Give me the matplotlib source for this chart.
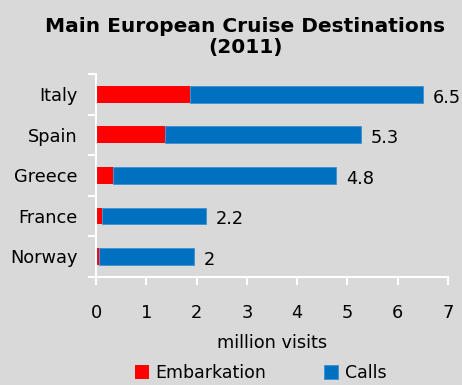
import matplotlib.pyplot as plt
import numpy as np

countries = ["Italy", "Spain", "Greece", "France", "Norway"]
embarkation = [1.87, 1.38, 0.33, 0.11, 0.05]
calls = [4.63, 3.89, 4.45, 2.08, 1.89]
totals = ["6.5", "5.3", "4.8", "2.2", "2"]

bg = "#d9d9d9"
red = "#ff0000"
blue = "#0070c0"

fig = plt.figure(figsize=(4.62, 3.85), dpi=100, facecolor=bg)
ax = fig.add_axes([0.2078, 0.2813, 0.7619, 0.5265], facecolor=bg)

y = np.arange(len(countries))[::-1]
ax.barh(y, embarkation, height=0.41, color=red, label="Embarkation")
ax.barh(y, calls, left=embarkation, height=0.41, color=blue,
        edgecolor="#3d8fd0", linewidth=0.6, label="Calls")

for yi, e, c, t in zip(y, embarkation, calls, totals):
    ax.text(e + c + 0.2, yi - 0.08, t, va="center", ha="left", fontsize=12.8)

ax.set_xlim(0, 7)
ax.set_ylim(-0.5, len(countries) - 0.5)
ax.set_xticks(range(8))
ax.set_yticks(y)
ax.set_yticklabels(countries)
ax.set_yticks(np.arange(-0.5, len(countries), 1), minor=True)
ax.tick_params(axis="y", which="major", length=0, pad=13, labelsize=12.8)
ax.tick_params(axis="y", which="minor", length=6, width=1.5, color="white")
ax.tick_params(axis="x", length=6, width=1.5, color="white", pad=14, labelsize=12.8)
for s in ["top", "right"]:
    ax.spines[s].set_visible(False)
for s in ["left", "bottom"]:
    ax.spines[s].set_color("white")
    ax.spines[s].set_linewidth(1.5)

ax.set_xlabel("million visits", fontsize=12.8, labelpad=8)

fig.suptitle("Main European Cruise Destinations\n(2011)", fontsize=14.5,
             fontweight="bold", y=0.955, x=0.531, linespacing=1.1)

fig.legend(loc="lower center", bbox_to_anchor=(0.564, -0.033), ncol=2, frameon=False,
           fontsize=12.5, handlelength=0.8, handleheight=0.8, handletextpad=0.4,
           columnspacing=3.3)

fig.savefig("out.png", dpi=100, facecolor=bg)
